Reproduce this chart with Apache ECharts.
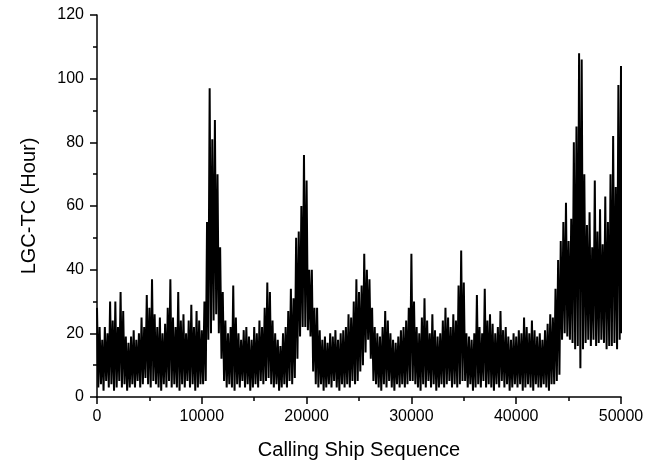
<!DOCTYPE html>
<html>
<head>
<meta charset="utf-8">
<script src="https://cdn.jsdelivr.net/npm/echarts@6/dist/echarts.min.js"></script>
<style>
html,body{margin:0;padding:0;background:#fff;}
#chart{width:659px;height:460px;}
</style>
</head>
<body>
<div id="chart"></div>
<script>
// Sample spacing along the x axis (ship sequence units)
const STEP = 250;
// Upper envelope (peak value) read at each 250-unit position, 0..50000
const highValues = [
  28,22,18,22,20,30,24,30,22,33, 27,19,17,19,21,18,20,25,22,32,
  28,37,26,22,25,20,23,28,37,25, 22,33,24,26,20,24,29,22,27,24,
  21,30,55,97,81,87,70,47,33,24, 20,22,35,25,20,18,21,22,19,18,
  22,20,24,22,28,36,33,24,20,18, 16,20,22,27,34,31,50,52,60,76,
  68,40,40,28,28,21,18,19,17,20, 19,21,18,20,21,22,26,25,30,37,
  33,35,45,40,37,28,22,20,19,22, 27,24,20,18,17,19,21,22,24,28,
  45,30,22,20,25,31,24,20,26,21, 19,20,24,28,25,22,26,24,35,46,
  36,20,19,18,20,32,22,20,34,24, 26,23,20,22,27,21,22,19,18,20,
  19,21,20,25,22,20,24,21,19,20, 18,21,23,26,25,34,43,49,55,61,
  49,56,80,85,108,106,70,54,58,47, 68,52,59,48,63,55,70,82,66,98,
  104
];
// Lower envelope (trough value) read just after each position
const lowValues = [
  3,4,2,5,3,4,2,3,5,3, 4,2,3,4,3,5,3,4,6,4,
  3,5,4,3,2,4,3,5,3,4, 3,2,4,3,5,3,4,2,3,4,
  4,5,18,20,24,26,20,12,5,3, 4,3,2,4,3,5,3,4,2,3,
  4,3,5,4,5,6,4,3,4,2, 3,4,3,5,4,6,12,19,22,22,
  21,19,8,4,3,4,2,3,4,3, 5,3,2,4,3,4,3,5,4,5,
  8,10,14,18,12,5,4,3,2,4, 3,5,3,2,4,3,4,3,4,5,
  5,4,3,2,4,3,5,3,4,2, 3,4,3,4,5,3,4,3,4,5,
  5,3,4,2,3,4,3,5,3,4, 3,2,4,3,5,3,4,2,3,4,
  3,4,2,3,4,3,2,4,3,3, 4,3,2,4,4,5,7,18,20,19,
  18,17,15,16,9,15,17,18,16,18, 16,17,18,17,15,16,16,17,15,18,
  20
];
const xTickInterval = 10000;
const yTickInterval = 20;

const points = [];
highValues.forEach((h, i) => {
  const x = i * STEP;
  points.push([x, h]);
  if (i < highValues.length - 1) points.push([x + STEP / 2, lowValues[i]]);
  else points.push([x, lowValues[i]]);
});

const chart = echarts.init(document.getElementById('chart'), null, {renderer: 'canvas'});
const FONT = 'Arial, "Liberation Sans", sans-serif';
chart.setOption({
  animation: false,
  backgroundColor: '#fff',
  grid: {left: 97, right: 38, top: 15, bottom: 63, containLabel: false, outerBoundsMode: 'none'},
  xAxis: {
    type: 'value', min: 0, max: 50000, interval: xTickInterval,
    name: 'Calling Ship Sequence', nameLocation: 'middle', nameGap: 43,
    nameTextStyle: {fontSize: 20, color: '#000', fontFamily: FONT},
    axisLine: {onZero: false, lineStyle: {color: '#000', width: 1.5}},
    axisTick: {show: true, inside: false, length: 7, lineStyle: {color: '#000', width: 1.5}},
    minorTick: {show: true, splitNumber: 2, length: 4, lineStyle: {color: '#000', width: 1.5}},
    axisLabel: {fontSize: 16, color: '#000', fontFamily: FONT, margin: 12,
      formatter: v => String(v)},
    splitLine: {show: false}
  },
  yAxis: {
    type: 'value', min: 0, max: 120, interval: yTickInterval,
    name: 'LGC-TC (Hour)', nameLocation: 'middle', nameGap: 58,
    nameTextStyle: {fontSize: 20, color: '#000', fontFamily: FONT},
    axisLine: {show: true, onZero: false, lineStyle: {color: '#000', width: 1.5}},
    axisTick: {show: true, inside: false, length: 7, lineStyle: {color: '#000', width: 1.5}},
    minorTick: {show: true, splitNumber: 2, length: 4, lineStyle: {color: '#000', width: 1.5}},
    axisLabel: {fontSize: 16, color: '#000', fontFamily: FONT, margin: 13},
    splitLine: {show: false}
  },
  series: [{
    type: 'line',
    data: points,
    showSymbol: false,
    symbol: 'none',
    lineStyle: {color: '#000', width: 2, join: 'miter'},
    clip: true
  }]
});
</script>
</body>
</html>
